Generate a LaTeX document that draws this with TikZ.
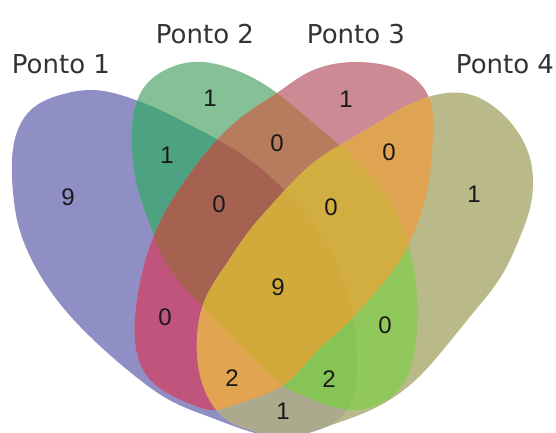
\documentclass[tikz,border=0pt]{standalone}
\usepackage{fontspec}
\usetikzlibrary{hobby}
\newfontfamily\labelfont{DejaVu Sans}
\newfontfamily\numfont{Liberation Sans}

% region colours (one per exact combination of sets)
\definecolor{cA}{RGB}{143,143,198}
\definecolor{cB}{RGB}{134,192,150}
\definecolor{cC}{RGB}{204,138,148}
\definecolor{cD}{RGB}{185,185,138}
\definecolor{cAB}{RGB}{77,162,130}
\definecolor{cAC}{RGB}{192,84,124}
\definecolor{cAD}{RGB}{171,170,140}
\definecolor{cBC}{RGB}{181,124,94}
\definecolor{cBD}{RGB}{145,200,92}
\definecolor{cCD}{RGB}{222,164,82}
\definecolor{cABC}{RGB}{166,98,80}
\definecolor{cABD}{RGB}{134,196,86}
\definecolor{cACD}{RGB}{226,164,80}
\definecolor{cBCD}{RGB}{210,174,64}
\definecolor{cABCD}{RGB}{210,170,60}

% the four egg-shaped sets (closed Hobby curves); the argument is the path action
\newcommand\ellA[1]{\path[#1,use Hobby shortcut,closed=true]
  (93,90) .. (60,95) .. (33,108) .. (17,132) .. (12,160) .. (13,192) .. (18,224)
  .. (28,252) .. (57,300) .. (100,346) .. (140,380) .. (173,402) .. (207,416)
  .. (245,430) .. (280,437) .. (315,431) .. (340,418) .. (353,398) .. (357,367)
  .. (355,330) .. (347,290) .. (330,250) .. (305,213) .. (277,183) .. (250,160)
  .. (220,141) .. (190,125) .. (160,110) .. (130,98);}
\newcommand\ellB[1]{\path[#1,use Hobby shortcut,closed=true]
  (193,62) .. (227,67) .. (257,80) .. (277,93) .. (300,112) .. (330,137)
  .. (360,165) .. (385,195) .. (402,228) .. (412,260) .. (417,295) .. (417,330)
  .. (412,362) .. (400,388) .. (380,404) .. (355,410) .. (325,404) .. (300,394)
  .. (283,385) .. (258,363) .. (232,338) .. (203,306) .. (180,282) .. (162,255)
  .. (150,225) .. (138,190) .. (132,150) .. (134,112) .. (145,86) .. (165,70);}
\newcommand\ellC[1]{\path[#1,use Hobby shortcut,closed=true]
  (340,63) .. (373,63) .. (405,72) .. (423,87) .. (431,104) .. (433,132)
  .. (431,165) .. (425,200) .. (415,230) .. (400,260) .. (377,290) .. (345,325)
  .. (313,355) .. (283,385) .. (257,397) .. (230,406) .. (212,410) .. (193,405)
  .. (167,393) .. (145,373) .. (135,340) .. (137,300) .. (147,255) .. (162,218)
  .. (187,178) .. (217,140) .. (247,113) .. (277,93) .. (307,73);}
\newcommand\ellD[1]{\path[#1,use Hobby shortcut,closed=true]
  (463,93) .. (493,106) .. (515,128) .. (529,155) .. (533,182) .. (530,208)
  .. (520,237) .. (502,275) .. (473,313) .. (443,350) .. (410,385) .. (377,407)
  .. (343,421) .. (313,431) .. (282,437) .. (250,430) .. (227,420) .. (212,404)
  .. (200,375) .. (197,340) .. (203,305) .. (227,263) .. (250,230) .. (277,199)
  .. (313,163) .. (340,145) .. (367,129) .. (395,112) .. (417,101) .. (440,94);}

\begin{document}
\begin{tikzpicture}[x=1pt,y=-1pt,
  num/.style={font=\numfont\fontsize{24}{24}\selectfont,inner sep=0pt,text=black!90},
  setlabel/.style={font=\labelfont\fontsize{26}{26}\selectfont,inner sep=0pt,anchor=base,text=black!80}]
\useasboundingbox (0,0) rectangle (556,432);

% single sets
\ellA{fill=cA}
\ellB{fill=cB}
\ellC{fill=cC}
\ellD{fill=cD}

% pairwise overlaps
\begin{scope}\ellA{clip}\ellB{fill=cAB}\end{scope}
\begin{scope}\ellA{clip}\ellC{fill=cAC}\end{scope}
\begin{scope}\ellA{clip}\ellD{fill=cAD}\end{scope}
\begin{scope}\ellB{clip}\ellC{fill=cBC}\end{scope}
\begin{scope}\ellB{clip}\ellD{fill=cBD}\end{scope}
\begin{scope}\ellC{clip}\ellD{fill=cCD}\end{scope}

% triple overlaps
\begin{scope}\ellA{clip}\ellB{clip}\ellC{fill=cABC}\end{scope}
\begin{scope}\ellA{clip}\ellB{clip}\ellD{fill=cABD}\end{scope}
\begin{scope}\ellA{clip}\ellC{clip}\ellD{fill=cACD}\end{scope}
\begin{scope}\ellB{clip}\ellC{clip}\ellD{fill=cBCD}\end{scope}

% all four
\begin{scope}\ellA{clip}\ellB{clip}\ellC{clip}\ellD{fill=cABCD}\end{scope}

% set names
\node[setlabel] (lA) at (61,73) {Ponto 1};
\node[setlabel] (lB) at (205,43) {Ponto 2};
\node[setlabel] (lC) at (356,43) {Ponto 3};
\node[setlabel] (lD) at (505,73) {Ponto 4};

% region counts
\node[num] (nA)    at (68,197)  {9};
\node[num] (nB)    at (210,98)  {1};
\node[num] (nC)    at (346,99)  {1};
\node[num] (nD)    at (474,194) {1};
\node[num] (nAB)   at (167,155) {1};
\node[num] (nBC)   at (277,143) {0};
\node[num] (nABC)  at (219,204) {0};
\node[num] (nBCD)  at (331,207) {0};
\node[num] (nCD)   at (389,152) {0};
\node[num] (nABCD) at (278,287) {9};
\node[num] (nAC)   at (165,317) {0};
\node[num] (nBD)   at (385,325) {0};
\node[num] (nACD)  at (232,378) {2};
\node[num] (nABD)  at (329,379) {2};
\node[num] (nAD)   at (283,411) {1};
\end{tikzpicture}
\end{document}
